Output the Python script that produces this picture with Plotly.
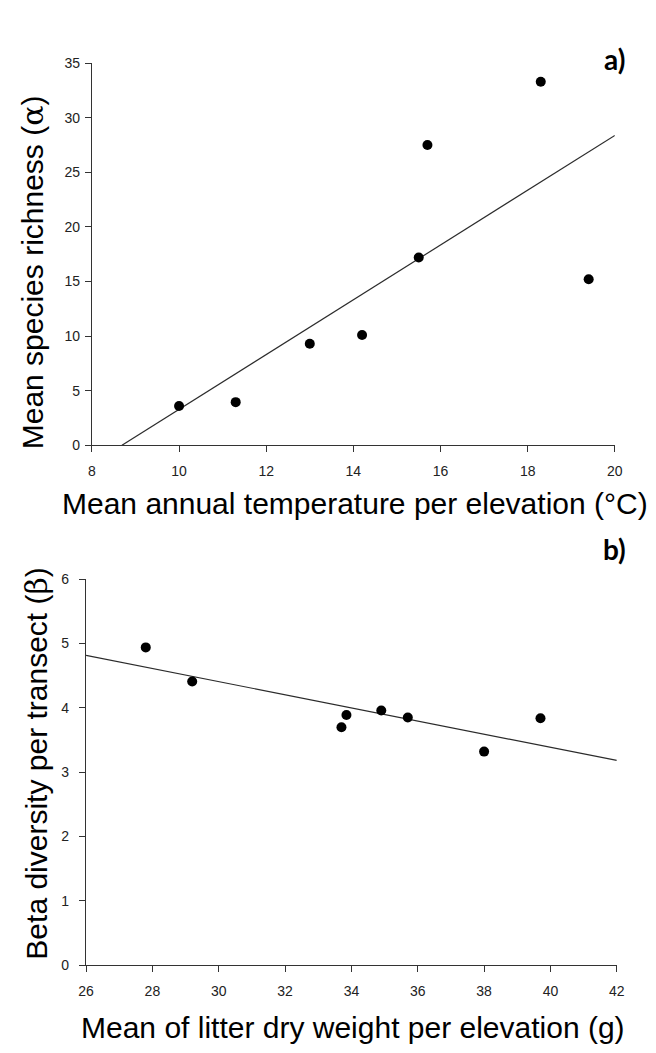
import numpy as np
import plotly.graph_objects as go

# Panel a: mean annual temperature (°C) vs mean species richness (alpha)
temp_c = [10.0, 11.3, 13.0, 14.2, 15.5, 15.7, 18.3, 19.4]
richness = [3.6, 3.95, 9.3, 10.1, 17.2, 27.5, 33.3, 15.2]

# Panel b: mean litter dry weight (g) vs beta diversity per transect
litter_g = [27.8, 29.2, 33.7, 33.85, 34.9, 35.7, 38.0, 39.7]
beta_div = [4.94, 4.41, 3.70, 3.89, 3.96, 3.85, 3.32, 3.84]

# Axis ticks
a_xticks = [8, 10, 12, 14, 16, 18, 20]
a_yticks = [0, 5, 10, 15, 20, 25, 30, 35]
b_xticks = [26, 28, 30, 32, 34, 36, 38, 40, 42]
b_yticks = [0, 1, 2, 3, 4, 5, 6]

W, H = 656, 1053
AX = "#333333"
FONT = "Liberation Sans, Arial, sans-serif"


def px(x):
    return x / W


def py(y):
    return 1 - y / H


# Least-squares regression lines
sa, ia = np.polyfit(temp_c, richness, 1)
sb, ib = np.polyfit(litter_g, beta_div, 1)
a_line_x = np.array([-ia / sa, a_xticks[-1]])
b_line_x = np.array([b_xticks[0], b_xticks[-1]])

fig = go.Figure()
fig.add_trace(go.Scatter(x=a_line_x, y=sa * a_line_x + ia, mode="lines",
                         line=dict(color="#2b2b2b", width=1.2),
                         xaxis="x", yaxis="y", hoverinfo="skip"))
fig.add_trace(go.Scatter(x=temp_c, y=richness, mode="markers",
                         marker=dict(color="black", size=10),
                         xaxis="x", yaxis="y"))
fig.add_trace(go.Scatter(x=b_line_x, y=sb * b_line_x + ib, mode="lines",
                         line=dict(color="#2b2b2b", width=1.2),
                         xaxis="x2", yaxis="y2", hoverinfo="skip"))
fig.add_trace(go.Scatter(x=litter_g, y=beta_div, mode="markers",
                         marker=dict(color="black", size=10),
                         xaxis="x2", yaxis="y2"))

axis_style = dict(showline=True, linecolor=AX, linewidth=1.2, ticks="outside",
                  ticklen=6, tickwidth=1.2, tickcolor=AX, showgrid=False,
                  zeroline=False, tickfont=dict(family=FONT, size=14, color="#222"),
                  tickmode="array")

fig.update_layout(
    width=W, height=H, margin=dict(l=0, r=0, t=0, b=0),
    paper_bgcolor="white", plot_bgcolor="white", showlegend=False,
    xaxis=dict(domain=[px(86), px(622)], range=[a_xticks[0], a_xticks[-1]],
               tickvals=a_xticks, anchor="y", ticklabelstandoff=7, **axis_style),
    yaxis=dict(domain=[py(444), py(56)], range=[a_yticks[0], a_yticks[-1]],
               tickvals=a_yticks, anchor="x", ticklabelstandoff=2, **axis_style),
    xaxis2=dict(domain=[px(80), px(624)], range=[b_xticks[0], b_xticks[-1]],
                tickvals=b_xticks, anchor="y2", ticklabelstandoff=7, **axis_style),
    yaxis2=dict(domain=[py(972), py(580)], range=[b_yticks[0], b_yticks[-1]],
                tickvals=b_yticks, anchor="x2", ticklabelstandoff=7, **axis_style),
)

title_font = dict(family=FONT, size=30, color="black")
greek = "<span style=\"font-family:'DejaVu Serif', serif\">{}</span>"
annotations = [
    dict(text="Mean annual temperature per elevation (°C)", x=px(356), y=py(503)),
    dict(text="Mean of litter dry weight per elevation (g)", x=px(354), y=py(1035)),
    dict(text="Mean species richness (" + greek.format("α") + ")", x=px(26), y=py(268),
         textangle=-90),
    dict(text="Beta diversity per transect (" + greek.format("β") + ")", x=px(29), y=py(767),
         textangle=-90),
]
for ann in annotations:
    fig.add_annotation(xref="paper", yref="paper", showarrow=False,
                       xanchor="center", yanchor="middle", font=title_font, **ann)

panel_font = dict(family="Lato, sans-serif", size=28, color="black")
fig.add_annotation(text="<b>a)</b>", x=px(634), y=py(32), xref="paper", yref="paper",
                   showarrow=False, font=panel_font)
fig.add_annotation(text="<b>b)</b>", x=px(636), y=py(549), xref="paper", yref="paper",
                   showarrow=False, font=panel_font)

fig.write_html("out.html")
